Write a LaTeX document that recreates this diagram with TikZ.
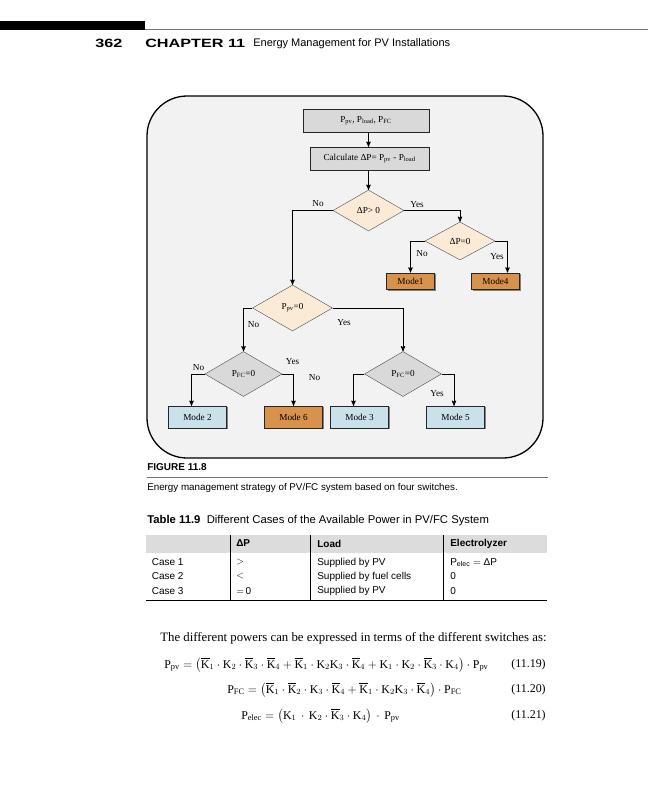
\documentclass[tikz,border=0pt]{standalone}
\usepackage{fontspec}
\setmainfont{Liberation Serif}
\setsansfont{Liberation Sans}
\usepackage{amsmath}
\usetikzlibrary{arrows,shapes.geometric,shadows}

\definecolor{framebg}{HTML}{F2F2F2}
\definecolor{boxgrey}{HTML}{D9D9D9}
\definecolor{peach}{HTML}{FBEAD6}
\definecolor{modeorange}{HTML}{D9924C}
\definecolor{modeblue}{HTML}{C9E1EA}
\definecolor{bandgrey}{HTML}{DCDCDC}

\begin{document}
\begin{tikzpicture}[x=1bp,y=-1bp,semithick,>=stealth',
                    font=\fontsize{9.2bp}{11bp}\selectfont]
  \tikzstyle{every node}=[inner sep=1bp]
  \tikzstyle{box}=[draw=black!85,thin,minimum height=23bp,
                   drop shadow={shadow xshift=1.3bp,shadow yshift=-1.3bp,fill=black!50,opacity=1}]
  \tikzstyle{grey box}=[box,fill=boxgrey]
  \tikzstyle{mode a}=[box,fill=modeorange,minimum width=48bp,minimum height=16.5bp]
  \tikzstyle{mode b}=[box,minimum width=58bp,minimum height=22bp]
  \tikzstyle{test}=[diamond,draw=black!70,thin,inner sep=0pt,fill=peach]
  \tikzstyle{flow}=[->,black,line width=0.9bp]
  \tikzstyle{page}=[anchor=west,inner sep=0pt,font=\sffamily\fontsize{10bp}{12bp}\selectfont]

  \fill[white] (0,0) rectangle (648,800);
  \useasboundingbox (0,0) rectangle (648,800);

  % running head
  \fill[black] (0,21) rectangle (145,30);
  \draw[black!55,line width=0.8bp] (145,29.6) -- (648,29.6);
  \node[page,font=\sffamily\bfseries\fontsize{12bp}{14bp}\selectfont] (pageno) at (95,43.5) {\scalebox{1.35}[1]{362}};
  \node[page,font=\sffamily\bfseries\fontsize{12bp}{14bp}\selectfont] (chap) at (145,43.5) {\scalebox{1.35}[1]{CHAPTER 11}};
  \node[page,font=\sffamily\fontsize{11bp}{13bp}\selectfont] (title) at (253,43.5) {Energy Management for PV Installations};

  % figure frame
  \draw[line width=1.3bp,fill=framebg,rounded corners=40bp] (147,96) rectangle (543,458);

  \node[grey box,minimum width=126bp] (in)   at (366,120.5) {P\textsubscript{pv}, P\textsubscript{load}, P\textsubscript{FC}};
  \node[grey box,minimum width=119bp] (calc) at (369.5,158.5) {Calculate ΔP= P\textsubscript{pv} - P\textsubscript{load}};

  \node[test,minimum width=71bp,minimum height=41bp] (dpos)  at (368.5,210.5) {ΔP> 0};
  \node[test,minimum width=70bp,minimum height=38bp] (dzero) at (460,241)     {ΔP=0};
  \node[test,minimum width=80bp,minimum height=46bp] (dpv)   at (292.5,308)   {P\textsubscript{pv}=0};
  \node[test,fill=boxgrey,minimum width=77bp,minimum height=45bp] (dfcl) at (243.5,374) {P\textsubscript{FC}=0};
  \node[test,fill=boxgrey,minimum width=77bp,minimum height=45bp] (dfcr) at (403,374)   {P\textsubscript{FC}=0};

  \node[mode a] (mone)  at (410.5,281) {Mode1};
  \node[mode a] (mfour) at (495.5,281) {Mode4};

  \node[mode b,fill=modeblue]   (mtwo)   at (197.5,417) {Mode 2};
  \node[mode b,fill=modeorange] (msix)   at (293.5,417) {Mode 6};
  \node[mode b,fill=modeblue]   (mthree) at (359.5,417) {Mode 3};
  \node[mode b,fill=modeblue]   (mfive)  at (455.5,417) {Mode 5};

  \draw[flow] (in.south -| dpos.north) -- (calc.north -| dpos.north);
  \draw[flow] (calc.south -| dpos.north) -- (dpos.north);
  \draw[flow] (dpos.west) -| (dpv.north);
  \draw[flow] (dpos.east) -| (dzero.north);
  \draw[flow] (dzero.west) -| (mone.north);
  \draw[flow] (dzero.east) -| ([xshift=12bp]mfour.north);
  \draw[flow] (dpv.west) -| (dfcl.north);
  \draw[flow] (dpv.east) -| (dfcr.north);
  \draw[flow] (dfcl.west) -| ([xshift=-6bp]mtwo.north);
  \draw[flow] (dfcl.east) -| (msix.north);
  \draw[flow] (dfcr.west) -| ([xshift=-6bp]mthree.north);
  \draw[flow] (dfcr.east) -| ([xshift=-1.5bp]mfive.north);

  % branch labels
  \node (lposno)   at (318,204)   {No};
  \node (lposyes)  at (417,205)   {Yes};
  \node (lzerono)  at (422,254)   {No};
  \node (lzeroyes) at (497,257)   {Yes};
  \node (lpvno)    at (253.5,325) {No};
  \node (lpvyes)   at (344,322.5) {Yes};
  \node (llno)     at (198.5,367.5) {No};
  \node (llyes)    at (292.5,361.5) {Yes};
  \node (llno2)    at (314.5,377.5) {No};
  \node (lryes)    at (437,394)   {Yes};

  % caption
  \node[page,font=\sffamily\bfseries\fontsize{10bp}{12bp}\selectfont] (fig) at (147,467) {FIGURE 11.8};
  \draw[black!55,line width=0.6bp] (147,477) -- (548,477);
  \node[page,font=\sffamily\fontsize{9.8bp}{12bp}\selectfont] (cap) at (147,488) {Energy management strategy of PV/FC system based on four switches.};

  % table
  \node[page,font=\sffamily\fontsize{11.3bp}{13bp}\selectfont] (tab) at (147,521) {\textbf{Table 11.9}\ \ Different Cases of the Available Power in PV/FC System};
  \fill[bandgrey] (146,535) rectangle (547,552.5);
  \draw[line width=0.9bp] (230.7,535) -- (230.7,600)
                          (310,535) -- (310,600)
                          (443.3,535) -- (443.3,600);
  \draw[line width=0.8bp] (146,600) -- (547,600);
  \node[page,font=\sffamily\bfseries\fontsize{10bp}{12bp}\selectfont] (hdp)   at (236,543.5) {ΔP};
  \node[page,font=\sffamily\bfseries\fontsize{10bp}{12bp}\selectfont] (hload) at (317,543.5) {Load};
  \node[page,font=\sffamily\bfseries\fontsize{10bp}{12bp}\selectfont] (helec) at (450,543.5) {Electrolyzer};
  \node[page] (cone)   at (151.5,562.5) {Case 1};
  \node[page] (ctwo)   at (151.5,576.5) {Case 2};
  \node[page] (cthree) at (151.5,591)   {Case 3};
  \node[page] (done)   at (236,562.5)   {$>$};
  \node[page] (dtwo)   at (236,576.5)   {$<$};
  \node[page] (dthree) at (236,591)     {$=$\,0};
  \node[page] (lone)   at (317,562.5)   {Supplied by PV};
  \node[page] (ltwo)   at (317,576.5)   {Supplied by fuel cells};
  \node[page] (lthree) at (317,591)     {Supplied by PV};
  \node[page] (eone)   at (450,562.5)   {P\textsubscript{elec} $=$ ΔP};
  \node[page] (etwo)   at (450,576.5)   {0};
  \node[page] (ethree) at (450,591)     {0};

  % equations
  \tikzstyle{eq}=[anchor=west,inner sep=0pt,font=\fontsize{11.9bp}{14bp}\selectfont]
  \node[eq,font=\fontsize{12.8bp}{15bp}\selectfont] (intro) at (160,638) {The different powers can be expressed in terms of the different switches as:};
  \node[eq] (eqpv) at (164,665)
    {$\mathrm{P_{pv}} = \bigl(\overline{\mathrm{K}}_1\cdot\mathrm{K}_2\cdot\overline{\mathrm{K}}_3\cdot\overline{\mathrm{K}}_4
      + \overline{\mathrm{K}}_1\cdot\mathrm{K}_2\mathrm{K}_3\cdot\overline{\mathrm{K}}_4
      + \mathrm{K}_1\cdot\mathrm{K}_2\cdot\overline{\mathrm{K}}_3\cdot\mathrm{K}_4\bigr)\cdot\mathrm{P_{pv}}$};
  \node[eq] (eqfc) at (227,690)
    {$\mathrm{P_{FC}} = \bigl(\overline{\mathrm{K}}_1\cdot\overline{\mathrm{K}}_2\cdot\mathrm{K}_3\cdot\overline{\mathrm{K}}_4
      + \overline{\mathrm{K}}_1\cdot\mathrm{K}_2\mathrm{K}_3\cdot\overline{\mathrm{K}}_4\bigr)\cdot\mathrm{P_{FC}}$};
  \node[eq] (eqel) at (241,716)
    {$\mathrm{P_{elec}} = \bigl(\mathrm{K}_1\,\cdot\,\mathrm{K}_2\cdot\overline{\mathrm{K}}_3\cdot\mathrm{K}_4\bigr)\,\cdot\,\mathrm{P_{pv}}$};
  \node[eq,anchor=east] (nopv) at (546,665) {(11.19)};
  \node[eq,anchor=east] (nofc) at (546,690) {(11.20)};
  \node[eq,anchor=east] (noel) at (546,716) {(11.21)};
\end{tikzpicture}
\end{document}
